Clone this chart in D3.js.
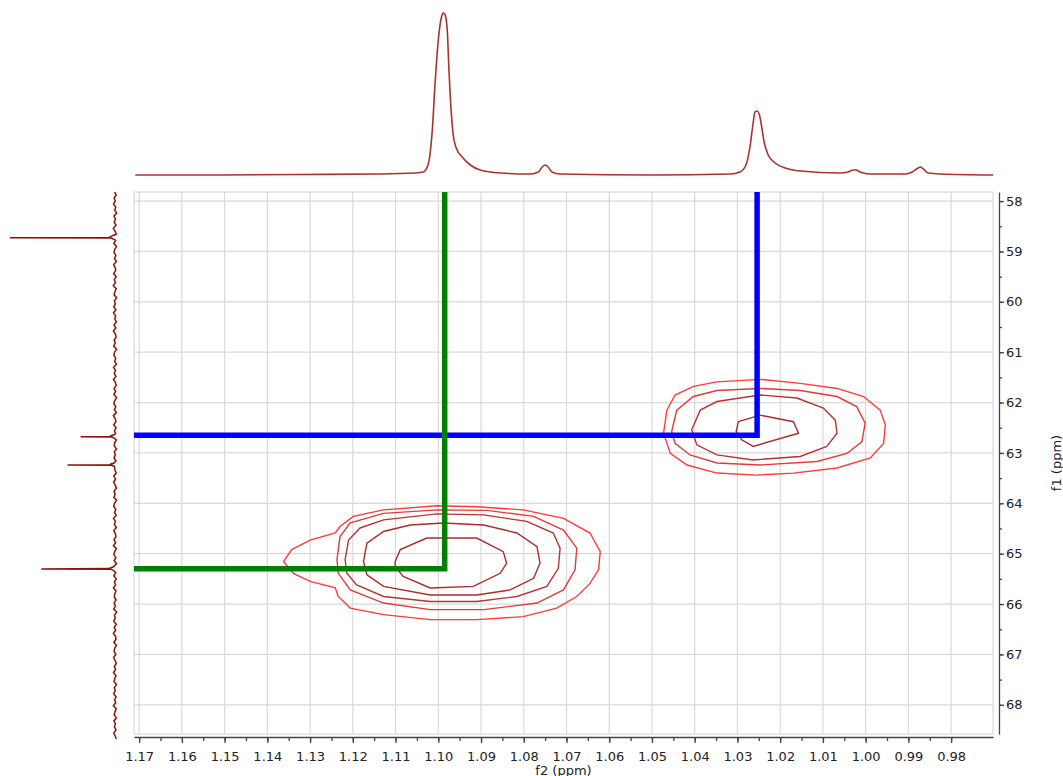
<!DOCTYPE html>
<html>
<head>
<meta charset="utf-8">
<script src="https://cdn.jsdelivr.net/npm/d3@7"></script>
<style>
  body { margin: 0; background: #fff; }
  text { font-family: "DejaVu Sans", sans-serif; }
</style>
</head>
<body>
<div id="chart"></div>
<script>
// f2 axis (ppm) and f1 axis (ppm)
var f2Ticks = [1.17, 1.16, 1.15, 1.14, 1.13, 1.12, 1.11, 1.10, 1.09, 1.08, 1.07, 1.06, 1.05, 1.04, 1.03, 1.02, 1.01, 1.00, 0.99, 0.98];
var f1Ticks = [58, 59, 60, 61, 62, 63, 64, 65, 66, 67, 68];

// top projection (f2 ppm, intensity)
var topTrace = [
  [1.1709, 1], [1.1557, 1], [1.1323, 1.5], [1.1136, 2], [1.1054, 3], [1.1035, 4],
  [1.1024, 11], [1.1014, 46], [1.1007, 96], [1.1000, 136], [1.0993, 158], [1.0989, 163],
  [1.0984, 161], [1.0979, 146], [1.0975, 106], [1.0970, 66], [1.0965, 41], [1.0958, 28],
  [1.0944, 19], [1.0925, 11], [1.0902, 6], [1.0855, 3], [1.0785, 2], [1.0766, 4],
  [1.0757, 9], [1.0750, 11], [1.0743, 9], [1.0734, 4], [1.0715, 2], [1.0504, 1],
  [1.0317, 2], [1.0294, 4], [1.0280, 11], [1.0270, 31], [1.0263, 54], [1.0259, 64],
  [1.0254, 65], [1.0249, 62], [1.0244, 51], [1.0237, 33], [1.0228, 21], [1.0212, 13],
  [1.0188, 8], [1.0153, 5], [1.0060, 3], [1.0041, 4], [1.0029, 6], [1.0022, 6],
  [1.0013, 4], [0.9989, 2], [0.9907, 2], [0.9891, 4], [0.9877, 8], [0.9872, 9],
  [0.9865, 7], [0.9854, 3], [0.9826, 2], [0.9702, 1]
];

// left projection: noise samples every 0.06 ppm from 57.82, and the spikes
var f1NoiseStart = 57.82;
var f1NoiseStep = 0.06;
var f1Noise = [
  0.4,-1.2,0.9,-0.3,1.5,-0.8,0.2,-1.6,1.1,-0.5,
  0.8,-1.0,1.6,-0.2,-1.3,0.7,-0.6,1.2,-1.5,0.3,
  1.0,-0.9,0.5,-1.4,1.3,-0.1,-0.7,1.4,-1.1,0.6,
  -0.4,1.7,-1.2,0.1,0.9,-1.6,0.6,-0.3,1.2,-0.9,
  1.5,-0.6,0.2,-1.3,1.0,-0.8,1.6,-0.4,-1.1,0.8,
  -0.2,1.3,-1.5,0.4,1.1,-0.7,0.3,-1.4,1.4,-0.5,
  0.7,-1.0,1.5,-0.3,-1.2,0.9,-0.6,1.1,-1.6,0.2,
  1.2,-0.8,0.6,-1.3,1.6,-0.2,-0.9,1.3,-1.1,0.5,
  -0.5,1.4,-1.4,0.3,0.8,-1.5,0.7,-0.4,1.0,-1.0,
  1.7,-0.7,0.1,-1.2,1.2,-0.6,1.4,-0.3,-1.3,0.9,
  -0.1,1.1,-1.6,0.5,1.3,-0.8,0.4,-1.1,1.5,-0.4,
  0.6,-1.3,1.2,-0.2,-1.0,1.0,-0.7,1.6,-1.4,0.3,
  1.1,-0.9,0.8,-1.5,1.4,-0.3,-0.8,1.2,-1.2,0.6,
  -0.6,1.5,-1.0,0.2,0.7,-1.1,0.9,-0.4,1.3,-1.6,
  0.5,-0.2,1.2,-1.3,0.8,-0.7,1.6,-0.5,-1.0,1.1,
  -1.4,0.3,0.9,-0.8,1.4,-0.1,-1.2,0.6,-0.6,1.5,
  -0.9,0.2,1.0,-1.5,0.7,-0.3,1.3,-1.1,0.4,-0.7,
  1.6,-1.2,0.1,0.8,-1.4,1.1,-0.5,0.6,-1.0,1.2,
  -0.2,-1.3
];
var f1SpikeCenters = [58.73, 62.68, 63.24, 65.30];
var f1Spikes = [
  [58.68, 1.5], [58.70, 4], [58.722, 6], [58.728, 104], [58.734, 4], [58.76, 1],
  [62.64, 1], [62.66, 4], [62.674, 5], [62.678, 34], [62.684, 3], [62.71, 0.5],
  [63.20, 1], [63.22, 4], [63.234, 5], [63.238, 47], [63.244, 3], [63.27, 0.5],
  [65.26, 1.5], [65.28, 4], [65.296, 6], [65.302, 73], [65.308, 4], [65.34, 1]
];

// contour levels [f2, f1], outer first
var contourColors = ["#ff3b3b", "#e23a3a", "#b53434", "#a82c2c", "#a82c2c"];
var peakA = [
  [[1.1362,65.16],[1.1343,64.92],[1.1300,64.73],[1.1241,64.59],[1.1230,64.46],[1.1199,64.26],[1.1128,64.13],[1.1003,64.05],[1.0910,64.07],[1.0801,64.13],[1.0707,64.30],[1.0645,64.59],[1.0621,64.96],[1.0625,65.32],[1.0645,65.59],[1.0676,65.85],[1.0723,66.08],[1.0801,66.25],[1.0910,66.31],[1.1019,66.31],[1.1128,66.21],[1.1206,66.08],[1.1234,65.85],[1.1241,65.68],[1.1300,65.55],[1.1339,65.39]],
  [[1.1237,65.12],[1.1230,64.66],[1.1206,64.39],[1.1128,64.20],[1.1003,64.13],[1.0886,64.14],[1.0777,64.26],[1.0707,64.53],[1.0676,64.89],[1.0680,65.32],[1.0707,65.72],[1.0769,65.98],[1.0894,66.11],[1.1019,66.11],[1.1128,65.98],[1.1206,65.72],[1.1234,65.39]],
  [[1.1218,65.12],[1.1210,64.73],[1.1183,64.49],[1.1128,64.33],[1.1003,64.21],[1.0894,64.23],[1.0793,64.36],[1.0731,64.59],[1.0715,64.89],[1.0719,65.29],[1.0746,65.65],[1.0816,65.85],[1.0910,65.95],[1.1019,65.95],[1.1128,65.85],[1.1191,65.62],[1.1214,65.39]],
  [[1.1175,65.16],[1.1167,64.79],[1.1128,64.56],[1.1066,64.43],[1.0988,64.39],[1.0894,64.43],[1.0816,64.59],[1.0769,64.86],[1.0762,65.19],[1.0777,65.49],[1.0832,65.72],[1.0910,65.82],[1.1019,65.82],[1.1128,65.65],[1.1167,65.42]],
  [[1.1101,65.16],[1.1089,64.92],[1.1027,64.69],[1.0910,64.69],[1.0848,64.96],[1.0840,65.19],[1.0855,65.39],[1.0918,65.65],[1.1019,65.68],[1.1082,65.45],[1.1101,65.26]]
];
var peakB = [
  [[1.0473,62.61],[1.0465,62.15],[1.0446,61.85],[1.0403,61.68],[1.0348,61.59],[1.0247,61.54],[1.0153,61.62],[1.0067,61.72],[1.0005,61.88],[0.9966,62.15],[0.9954,62.44],[0.9958,62.81],[0.9989,63.10],[1.0067,63.30],[1.0169,63.40],[1.0255,63.44],[1.0348,63.40],[1.0418,63.24],[1.0457,63.01]],
  [[1.0454,62.58],[1.0442,62.15],[1.0403,61.88],[1.0348,61.76],[1.0247,61.72],[1.0153,61.76],[1.0067,61.88],[1.0021,62.08],[1.0001,62.41],[1.0009,62.78],[1.0044,63.01],[1.0114,63.17],[1.0247,63.24],[1.0348,63.20],[1.0411,63.04],[1.0446,62.81]],
  [[1.0407,62.54],[1.0387,62.15],[1.0348,61.98],[1.0247,61.85],[1.0161,61.91],[1.0099,62.11],[1.0071,62.35],[1.0067,62.61],[1.0091,62.87],[1.0153,63.07],[1.0263,63.14],[1.0348,63.04],[1.0395,62.84]],
  [[1.0298,62.38],[1.0247,62.25],[1.0169,62.38],[1.0157,62.61],[1.0263,62.87],[1.0290,62.74],[1.0303,62.58]]
];

// cross-hair markers
var markerF2 = [1.0254, 1.0985];
var markerF1 = [62.65, 65.30];
var markerColors = ["#0000ff", "#008000"];

var W = 1063, H = 776;
var plotL = 134, plotR = 993, plotT = 192, plotB = 734;

var svg = d3.select("#chart").append("svg")
  .attr("width", W).attr("height", H);

var x = d3.scaleLinear().domain([1.1712, 0.9702]).range([plotL, plotR]);
var y = d3.scaleLinear().domain([57.82, 68.58]).range([plotT, plotB]);
var topY = d3.scaleLinear().domain([0, 163]).range([176, 13]);
var leftX = d3.scaleLinear().domain([0, 104]).range([115, 10]);

// grid
var grid = svg.append("g");
grid.selectAll(".gx").data(f2Ticks).enter().append("line")
  .attr("x1", function(d) { return x(d); }).attr("x2", function(d) { return x(d); })
  .attr("y1", plotT).attr("y2", plotB)
  .attr("stroke", "#d9d9d9").attr("stroke-width", 1.2);
grid.selectAll(".gy").data(f1Ticks).enter().append("line")
  .attr("x1", plotL).attr("x2", plotR)
  .attr("y1", function(d) { return y(d); }).attr("y2", function(d) { return y(d); })
  .attr("stroke", "#d9d9d9").attr("stroke-width", 1.2);
grid.append("rect")
  .attr("x", plotL).attr("y", plotT)
  .attr("width", plotR - plotL).attr("height", plotB - plotT)
  .attr("fill", "none").attr("stroke", "#d9d9d9").attr("stroke-width", 1.2);

// axes
var minorF2 = d3.range(0, 40).map(function(i) { return 1.175 - i * 0.005; })
  .filter(function(d) { return d < 1.1712 && d > 0.9702; });
var minorF1 = d3.range(0, 22).map(function(i) { return 57.5 + i * 0.5; })
  .filter(function(d) { return d > 57.82 && d < 68.58; });

svg.append("g").attr("transform", "translate(0,737)")
  .call(d3.axisBottom(x).tickValues(f2Ticks).tickSize(6).tickSizeOuter(0).tickPadding(9)
    .tickFormat(d3.format(".2f")));
svg.append("g").attr("transform", "translate(0,737)")
  .call(d3.axisBottom(x).tickValues(minorF2).tickSize(4).tickSizeOuter(0).tickFormat(""))
  .select(".domain").remove();

svg.append("g").attr("transform", "translate(999,0)")
  .call(d3.axisRight(y).tickValues(f1Ticks).tickSize(5).tickSizeOuter(0).tickPadding(2));
svg.append("g").attr("transform", "translate(999,0)")
  .call(d3.axisRight(y).tickValues(minorF1).tickSize(3).tickSizeOuter(0).tickFormat(""))
  .select(".domain").remove();

svg.selectAll(".domain, .tick line").attr("stroke", "#444").attr("stroke-width", 1.3);
svg.selectAll(".tick text").attr("font-size", 13).attr("fill", "#222")
  .attr("font-family", "DejaVu Sans, sans-serif");

svg.append("text").attr("x", (plotL + plotR) / 2).attr("y", 775)
  .attr("text-anchor", "middle").attr("font-size", 13).attr("fill", "#222")
  .text("f2 (ppm)");
svg.append("text").attr("transform", "translate(1061," + ((plotT + plotB) / 2) + ") rotate(-90)")
  .attr("text-anchor", "middle").attr("font-size", 13).attr("fill", "#222")
  .text("f1 (ppm)");

// top projection
svg.append("path").datum(topTrace)
  .attr("d", d3.line().x(function(d) { return x(d[0]); }).y(function(d) { return topY(d[1]); })
    .curve(d3.curveMonotoneX))
  .attr("fill", "none").attr("stroke", "#a83232").attr("stroke-width", 1.6);

// left projection
var leftTrace = f1Noise.map(function(v, i) { return [f1NoiseStart + i * f1NoiseStep, v]; })
  .filter(function(p) {
    return f1SpikeCenters.every(function(c) { return Math.abs(p[0] - c) > 0.05; });
  })
  .concat(f1Spikes)
  .sort(function(a, b) { return a[0] - b[0]; });
svg.append("path").datum(leftTrace)
  .attr("d", d3.line().x(function(d) { return leftX(d[1]); }).y(function(d) { return y(d[0]); }))
  .attr("fill", "none").attr("stroke", "#8b1010").attr("stroke-width", 1.5);

// contours
var contourLine = d3.line()
  .x(function(d) { return x(d[0]); }).y(function(d) { return y(d[1]); })
  .curve(d3.curveLinearClosed);
[peakA, peakB].forEach(function(levels) {
  svg.append("g").selectAll("path").data(levels).enter().append("path")
    .attr("d", contourLine)
    .attr("fill", "none")
    .attr("stroke", function(d, i) { return contourColors[i]; })
    .attr("stroke-width", 1.4);
});

// cross-hairs
markerF2.forEach(function(f2, i) {
  svg.append("path")
    .attr("d", "M" + plotL + "," + y(markerF1[i]) + "H" + x(f2) + "V" + plotT)
    .attr("fill", "none")
    .attr("stroke", markerColors[i])
    .attr("stroke-width", 5.5)
    .attr("stroke-linejoin", "miter");
});
</script>
</body>
</html>
